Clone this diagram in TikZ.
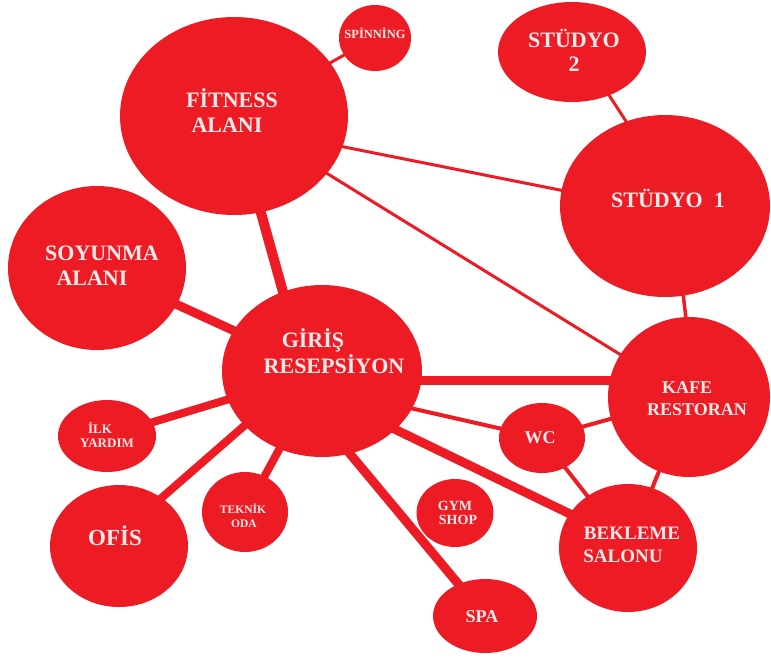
\documentclass[tikz,border=0pt]{standalone}
\usepackage{fontspec}
\setmainfont{Liberation Serif}
\usetikzlibrary{shapes.geometric,backgrounds}
\definecolor{roomred}{RGB}{237,28,36}
\definecolor{lbltxt}{RGB}{248,234,234}
\tikzset{
  room/.style={ellipse, fill=roomred, draw=none, inner sep=0pt},
  lbl/.style={anchor=base, inner sep=0pt, text=lbltxt, font=\bfseries\fontsize{#1}{#1}\selectfont},
  link/.style={draw=roomred, line width=#1},
}
\begin{document}
\begin{tikzpicture}[x=1pt,y=-1pt]
\useasboundingbox (0,0) rectangle (771,657);
% rooms
\node[room, minimum width=228, minimum height=198] (fit) at (234,116) {};
\node[room, minimum width=72, minimum height=66] (spin) at (375,38) {};
\node[room, minimum width=148, minimum height=100] (st2) at (572,52) {};
\node[room, minimum width=210, minimum height=182] (st1) at (665,206) {};
\node[room, minimum width=178, minimum height=164] (soy) at (97,268) {};
\node[room, minimum width=200, minimum height=172] (gir) at (322,371) {};
\node[room, minimum width=162, minimum height=160] (kafe) at (689,397) {};
\node[room, minimum width=86, minimum height=70] (wc) at (542,438) {};
\node[room, minimum width=98, minimum height=72] (ilk) at (107,436) {};
\node[room, minimum width=138, minimum height=122] (ofis) at (119,546) {};
\node[room, minimum width=86, minimum height=80] (tek) at (245,512) {};
\node[room, minimum width=77, minimum height=68] (gym) at (455,513) {};
\node[room, minimum width=138, minimum height=128] (bek) at (628,548) {};
\node[room, minimum width=104, minimum height=74] (spa) at (485,616) {};
% labels
\node[lbl=22] (fitA) at (232,107) {FİTNESS};
\node[lbl=22] (fitB) at (227,132) {ALANI};
\node[lbl=12.5] (spinA) at (375,38) {SPİNNİNG};
\node[lbl=22] (st2A) at (574,47) {STÜDYO};
\node[lbl=22] (st2B) at (574,71) {2};
\node[lbl=22] (st1A) at (668,207) {STÜDYO~~1};
\node[lbl=22] (soyA) at (102,260) {SOYUNMA};
\node[lbl=22] (soyB) at (92,285) {ALANI};
\node[lbl=22] (girA) at (313,347) {GİRİŞ};
\node[lbl=22] (girB) at (334,373) {RESEPSİYON};
\node[lbl=18] (kafeA) at (687,393) {KAFE};
\node[lbl=18] (kafeB) at (697,415) {RESTORAN};
\node[lbl=18] (wcA) at (540,443) {WC};
\node[lbl=13] (ilkA) at (100,433) {İLK};
\node[lbl=13] (ilkB) at (107,447) {YARDIM};
\node[lbl=23] (ofisA) at (115,545) {OFİS};
\node[lbl=11.5] (tekA) at (243,513) {TEKNİK};
\node[lbl=11.5] (tekB) at (244,527) {ODA};
\node[lbl=14] (gymA) at (455,510) {GYM};
\node[lbl=14] (gymB) at (458,524) {SHOP};
\node[lbl=19] (bekA) at (632,539) {BEKLEME};
\node[lbl=19] (bekB) at (623,562) {SALONU};
\node[lbl=18] (spaA) at (482,622) {SPA};
% connectors
\begin{pgfonlayer}{background}
\draw[link=3] (fit.center) -- (spin.center);
\draw[link=3] ([shift={(0,9)}]fit.center) -- ([shift={(0,5)}]st1.center);
\draw[link=3] (fit.center) -- (kafe.center);
\draw[link=10] (fit.center) -- ([shift={(-17,0)}]gir.center);
\draw[link=3] ([shift={(9,0)}]st2.center) -- ([shift={(16,0)}]st1.center);
\draw[link=3.5] ([shift={(8,0)}]st1.center) -- ([shift={(6,0)}]kafe.center);
\draw[link=9] (soy.center) -- (gir.center);
\draw[link=9] ([shift={(0,9)}]gir.center) -- ([shift={(0,-17)}]kafe.center);
\draw[link=4] ([shift={(0,17)}]gir.center) -- (wc.center);
\draw[link=4] (wc.center) -- (kafe.center);
\draw[link=4] (wc.center) -- (bek.center);
\draw[link=4] (kafe.center) -- (bek.center);
\draw[link=9] ([shift={(0,23)}]gir.center) -- ([shift={(0,-6)}]bek.center);
\draw[link=9] ([shift={(-41,0)}]gir.center) -- (spa.center);
\draw[link=8] (gir.center) -- (ilk.center);
\draw[link=8] ([shift={(0,-13)}]gir.center) -- ([shift={(0,-11)}]ofis.center);
\draw[link=8] (gir.center) -- (tek.center);
\end{pgfonlayer}
\end{tikzpicture}
\end{document}
